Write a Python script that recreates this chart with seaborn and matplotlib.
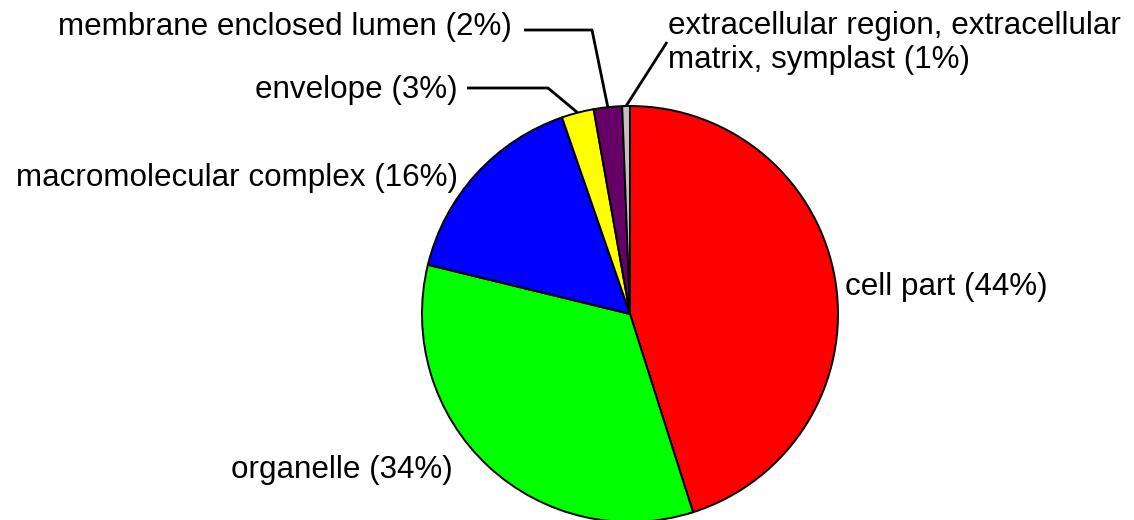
import matplotlib
matplotlib.use("Agg")
import matplotlib.pyplot as plt
import seaborn as sns
import numpy as np

categories = ["cell part", "organelle", "macromolecular complex", "envelope",
              "membrane enclosed lumen",
              "extracellular region, extracellular\nmatrix, symplast"]
values = [45.1, 33.7, 15.9, 2.5, 2.2, 0.6]
pct_labels = [44, 34, 16, 3, 2, 1]
colors = ["#FF0000", "#00FF00", "#0000FF", "#FFFF00", "#660066", "#C0C0C0"]

sns.set_theme(style="white")
plt.rcParams['font.family'] = ['Liberation Sans', 'DejaVu Sans']

W, H, DPI = 1134, 520, 100
fig = plt.figure(figsize=(W / DPI, H / DPI), dpi=DPI)
ax = fig.add_axes([0, 0, 1, 1])

R = 208.0
cx, cy = 630.0, 314.0  # pie centre in pixel (top-left origin)

def px(x, y):
    return ((x - cx) / R, (cy - y) / R)

wedges, _ = ax.pie(values, colors=colors, startangle=90, counterclock=False,
                   radius=1.0, wedgeprops=dict(edgecolor="black", linewidth=1.4))
ax.set_xlim((0 - cx) / R, (W - cx) / R)
ax.set_ylim((cy - H) / R, cy / R)
ax.set_aspect("equal")
ax.axis("off")

def mid(i):
    w = wedges[i]
    a = np.deg2rad((w.theta1 + w.theta2) / 2)
    return (np.cos(a), np.sin(a))

fs = 22.6
labels = [f"{c} ({p}%)" for c, p in zip(categories, pct_labels)]

# text placements (pixel positions) : (x, y, ha)
place = [(845, 287, "left"), (453, 470, "right"), (458, 178, "right"),
         (458, 90, "right"), (512, 27, "right"), (668, 43, "left")]
for lab, (x, y, ha) in zip(labels, place):
    tx, ty = px(x, y)
    ax.text(tx, ty, lab, ha=ha, va="center", fontsize=fs, color="black",
            linespacing=1.2, clip_on=False)

# leader lines
leaders = {
    3: [(467, 88), (548, 88)],
    4: [(524, 30), (592, 30)],
    5: [(667, 42)],
}
for i, pts in leaders.items():
    xs = [px(*p)[0] for p in pts]
    ys = [px(*p)[1] for p in pts]
    mx, my = mid(i)
    xs.append(mx)
    ys.append(my)
    ax.plot(xs, ys, color="black", linewidth=2.0, solid_capstyle="butt", clip_on=False)

fig.savefig("out.png", dpi=DPI, facecolor="white")
